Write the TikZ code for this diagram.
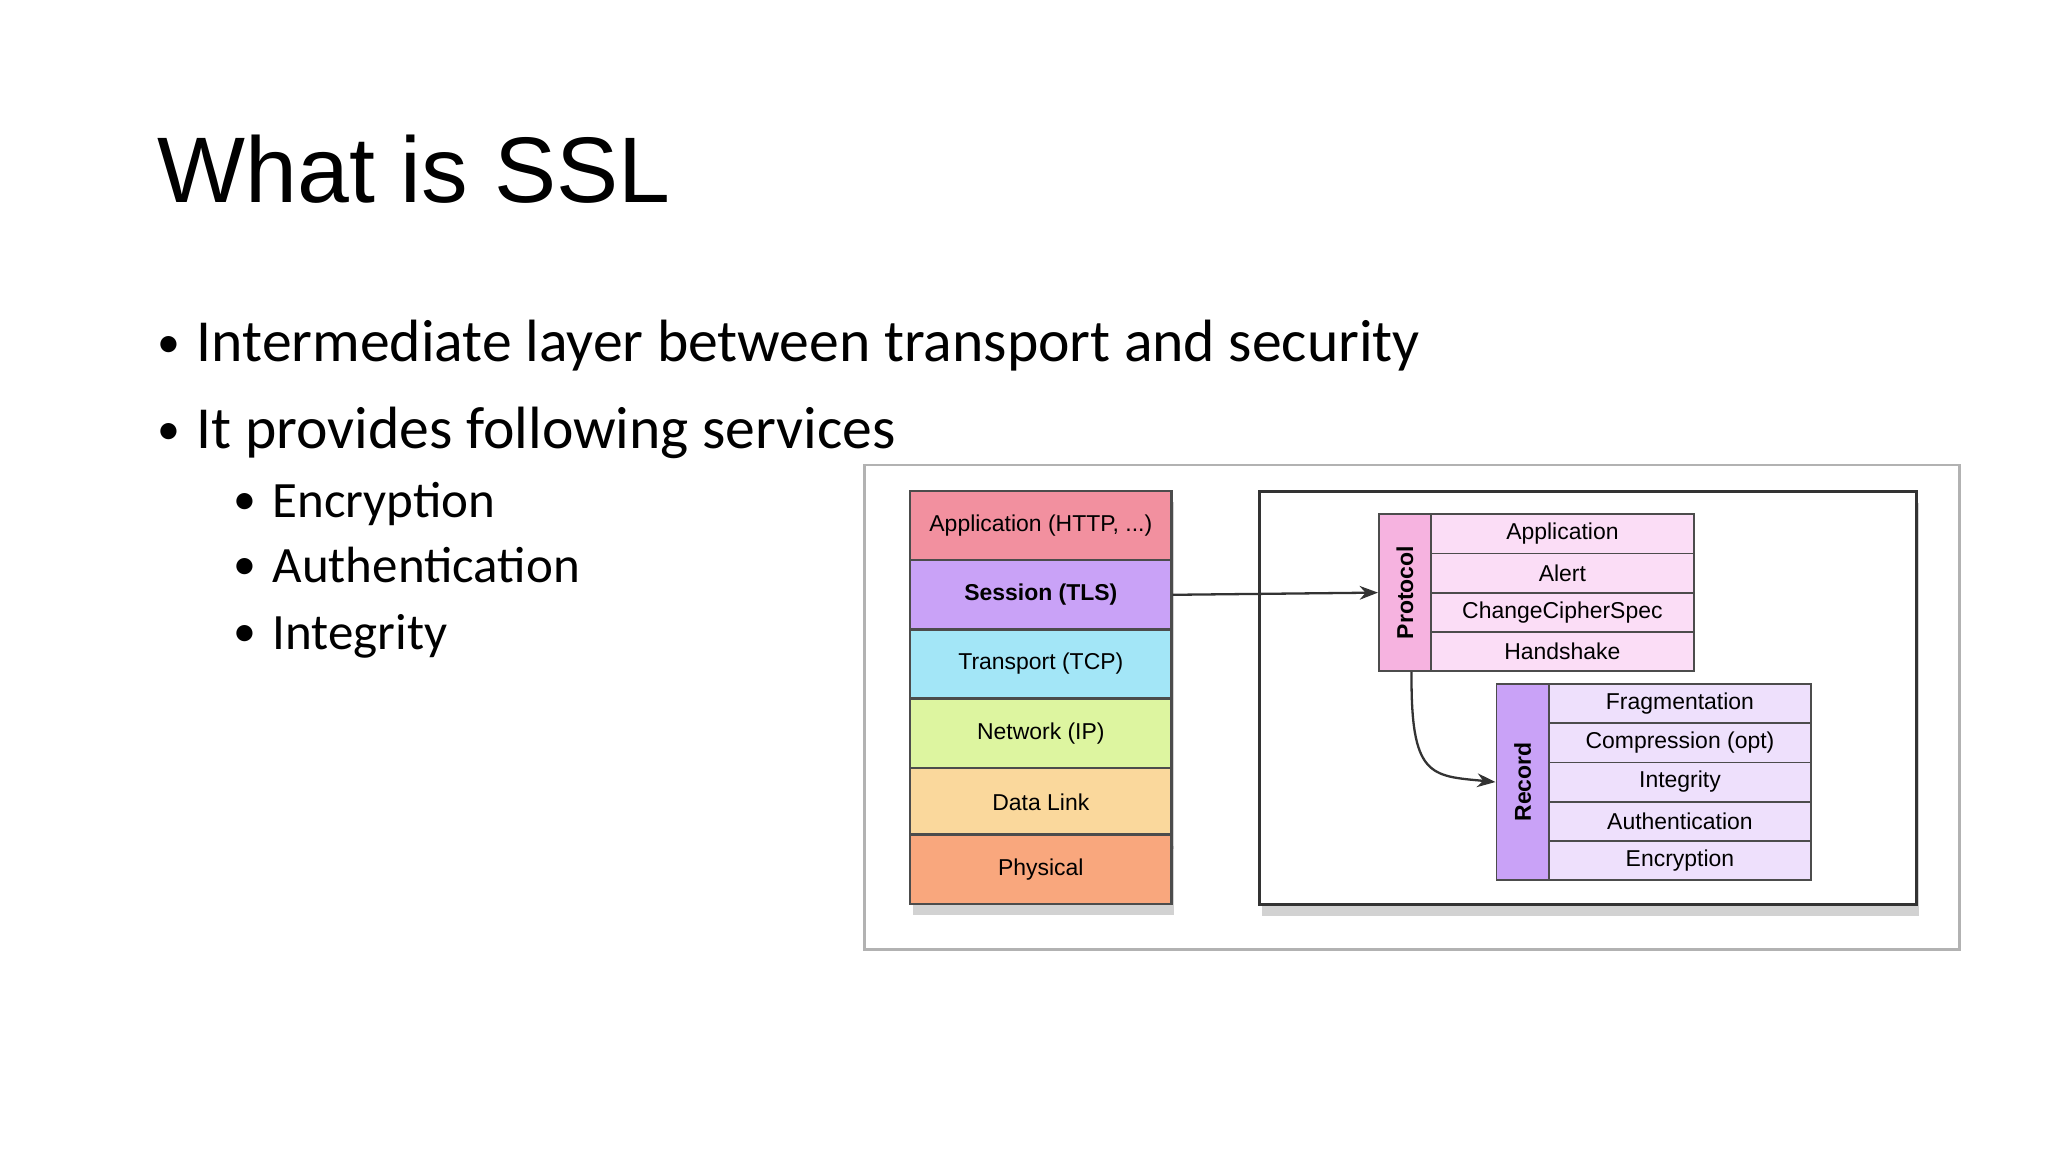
\documentclass[tikz,border=0pt]{standalone}
\usepackage{fontspec}
\setmainfont{Liberation Sans}
\newfontfamily\carfont{Carlito}
\usetikzlibrary{arrows.meta,shadows}
\definecolor{cApp}{HTML}{F2909F}
\definecolor{cSes}{HTML}{C9A2F7}
\definecolor{cTra}{HTML}{A3E6F7}
\definecolor{cNet}{HTML}{DDF5A0}
\definecolor{cDat}{HTML}{FAD89C}
\definecolor{cPhy}{HTML}{F9A77D}
\definecolor{cPL}{HTML}{F6B3E0}
\definecolor{cPC}{HTML}{FBDDF6}
\definecolor{cRL}{HTML}{C9A2F7}
\definecolor{cRC}{HTML}{EEE0FC}
\tikzset{
 lay/.style={draw=black!70,line width=0.5pt,minimum width=2cm,minimum height=0.53cm,anchor=north west,inner sep=0pt,font=\fontsize{5.0}{6}\selectfont},
 cell/.style={draw=black!70,line width=0.4pt,minimum width=2.01cm,minimum height=0.3cm,anchor=north west,inner sep=0pt,font=\fontsize{5.0}{6}\selectfont},
 lab/.style={draw=black!70,line width=0.4pt,minimum width=0.4cm,anchor=north west,inner sep=0pt,font=\bfseries\fontsize{5.0}{6}\selectfont},
 bul/.style={anchor=base west,inner sep=0pt,font=\carfont\fontsize{13}{15}\selectfont},
 sbul/.style={anchor=base west,inner sep=0pt,font=\carfont\fontsize{11.1}{13}\selectfont},
 dot/.style={anchor=base west,inner sep=0pt,font=\carfont\fontsize{10}{12}\selectfont},
 arr/.style={-{Stealth[length=4pt]},line width=0.5pt,black!80},
 shad/.style={drop shadow={shadow xshift=0.5pt,shadow yshift=-2.5pt,opacity=0.35}}
}
\begin{document}
\begin{tikzpicture}[x=1cm,y=-1cm]
\useasboundingbox (0,0) rectangle (15.68,8.82);
\node[anchor=base west,inner sep=0pt,font=\fontsize{20.3}{24}\selectfont] (title) at (1.2,1.55) {What is SSL};
\node[dot] (d1) at (1.2,2.74) {•};
\node[bul] (b1) at (1.5,2.77) {Intermediate layer between transport and security};
\node[dot] (d2) at (1.2,3.40) {•};
\node[bul] (b2) at (1.5,3.43) {It provides following services};
\node[dot] (d3) at (1.78,3.94) {•};
\node[sbul] (s1) at (2.08,3.96) {Encryption};
\node[dot] (d4) at (1.78,4.44) {•};
\node[sbul] (s2) at (2.08,4.46) {Authentication};
\node[dot] (d5) at (1.78,4.95) {•};
\node[sbul] (s3) at (2.08,4.97) {Integrity};
\node[draw=black!30,line width=0.6pt,fill=white,minimum width=8.38cm,minimum height=3.71cm,anchor=north west,inner sep=0pt] (frame) at (6.61,3.55) {};
\node[lay,fill=cApp,shad] (l1) at (6.96,3.75) {Application (HTTP, ...)};
\node[lay,fill=cSes,shad] (l2) at (6.96,4.28) {\bfseries Session (TLS)};
\node[lay,fill=cTra,shad] (l3) at (6.96,4.81) {Transport (TCP)};
\node[lay,fill=cNet,shad] (l4) at (6.96,5.34) {Network (IP)};
\node[lay,fill=cDat,shad] (l5) at (6.96,5.87) {Data Link};
\node[lay,fill=cPhy,shad] (l6) at (6.96,6.38) {Physical};
\node[draw=black!80,line width=0.8pt,fill=white,shad,minimum width=5.03cm,minimum height=3.16cm,anchor=north west,inner sep=0pt] (rbox) at (9.63,3.75) {};
\node[lab,fill=cPL,minimum height=1.2cm] (pl) at (10.55,3.93) {\rotatebox{90}{Protocol}};
\node[cell,fill=cPC] (p1) at (10.95,3.93) {Application};
\node[cell,fill=cPC] (p2) at (10.95,4.23) {Alert};
\node[cell,fill=cPC] (p3) at (10.95,4.53) {ChangeCipherSpec};
\node[cell,fill=cPC] (p4) at (10.95,4.83) {Handshake};
\node[lab,fill=cRL,minimum height=1.5cm] (rl) at (11.45,5.23) {\rotatebox{90}{Record}};
\node[cell,fill=cRC] (r1) at (11.85,5.23) {Fragmentation};
\node[cell,fill=cRC] (r2) at (11.85,5.53) {Compression (opt)};
\node[cell,fill=cRC] (r3) at (11.85,5.83) {Integrity};
\node[cell,fill=cRC] (r4) at (11.85,6.13) {Authentication};
\node[cell,fill=cRC] (r5) at (11.85,6.43) {Encryption};
\draw[arr] (l2.east) -- (pl.west);
\draw[arr] ([xshift=0.05cm]pl.south) .. controls (10.8,5.95) and (10.95,5.94) .. (rl.west);
\end{tikzpicture}
\end{document}
